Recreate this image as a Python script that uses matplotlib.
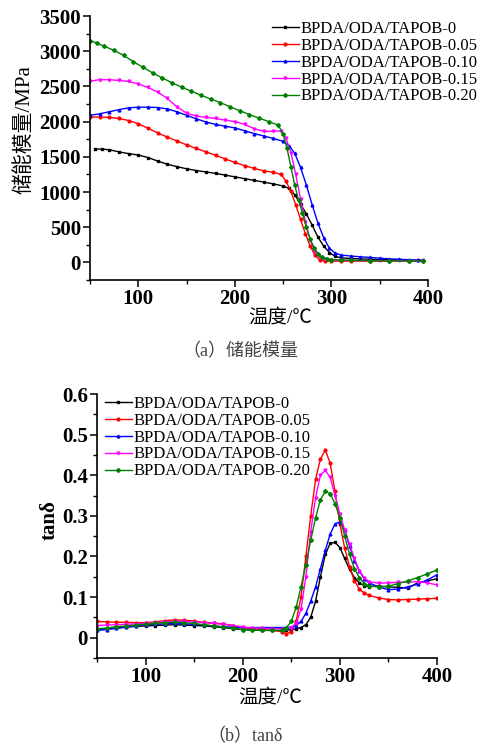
import matplotlib
matplotlib.use("Agg")
import matplotlib.pyplot as plt
from matplotlib.ticker import MultipleLocator

plt.rcParams['font.family'] = ['Liberation Serif', 'Noto Sans CJK SC', 'DejaVu Sans']

# --- data: storage modulus (MPa) ---
labels = ['BPDA/ODA/TAPOB-0', 'BPDA/ODA/TAPOB-0.05', 'BPDA/ODA/TAPOB-0.10',
          'BPDA/ODA/TAPOB-0.15', 'BPDA/ODA/TAPOB-0.20']
colors = ['black', '#ff0000', '#0000ff', '#ff00ff', '#008000']
markers = ['s', 'o', '^', 'v', 'D']

e_x0 = [55, 62, 70, 80, 90, 100, 110, 120, 130, 140, 150, 160, 170, 180, 190, 200, 210, 220, 230, 240,
        250, 256, 262, 268, 274, 280, 286, 292, 298, 304, 310, 320, 330, 340, 350, 360, 370, 380, 390, 395]
e_y0 = [1610, 1610, 1600, 1570, 1545, 1525, 1490, 1440, 1395, 1360, 1330, 1305, 1285, 1265, 1240, 1215,
        1190, 1165, 1140, 1115, 1085, 1050, 960, 830, 690, 530, 360, 230, 140, 85, 65, 55, 50, 45, 40,
        38, 35, 32, 30, 28]

e_x1 = [50, 60, 70, 80, 90, 100, 110, 120, 130, 140, 150, 160, 170, 180, 190, 200, 210, 220, 230, 240,
        248, 253, 258, 263, 268, 273, 278, 283, 288, 293, 300, 310, 320, 340, 360, 380, 395]
e_y1 = [2065, 2065, 2060, 2045, 2015, 1970, 1905, 1840, 1780, 1725, 1670, 1620, 1570, 1520, 1470, 1420,
        1375, 1335, 1300, 1280, 1250, 1150, 1010, 820, 610, 410, 230, 100, 35, 20, 18, 18, 18, 18, 18,
        18, 18]

e_x2 = [50, 60, 70, 80, 90, 100, 110, 120, 130, 140, 150, 160, 170, 180, 190, 200, 210, 220, 230, 240,
        250, 256, 262, 268, 274, 280, 286, 292, 298, 304, 310, 320, 330, 340, 350, 360, 370, 380, 390, 395]
e_y2 = [2090, 2110, 2140, 2170, 2195, 2205, 2205, 2200, 2180, 2140, 2090, 2040, 1995, 1960, 1935, 1910,
        1870, 1830, 1795, 1760, 1720, 1660, 1550, 1350, 1100, 820, 560, 350, 200, 130, 105, 90, 80, 70,
        60, 50, 45, 38, 32, 28]

e_x3 = [50, 60, 70, 80, 90, 100, 110, 120, 130, 140, 150, 160, 170, 180, 190, 200, 210, 220, 230, 240,
        248, 253, 258, 263, 268, 273, 278, 283, 288, 293, 300, 310, 320, 340, 360, 380, 395]
e_y3 = [2575, 2595, 2595, 2585, 2570, 2535, 2485, 2420, 2330, 2210, 2120, 2080, 2060, 2045, 2020, 2000,
        1960, 1900, 1860, 1865, 1865, 1760, 1560, 1250, 900, 580, 320, 150, 70, 45, 35, 30, 28, 25, 22,
        20, 20]

e_x4 = [50, 57, 65, 75, 85, 95, 105, 115, 125, 135, 145, 155, 165, 175, 185, 195, 205, 215, 225, 235,
        245, 250, 254, 258, 262, 266, 270, 274, 278, 282, 286, 290, 295, 300, 310, 320, 340, 360, 380, 395]
e_y4 = [3150, 3115, 3070, 3010, 2940, 2850, 2770, 2690, 2620, 2550, 2490, 2430, 2375, 2320, 2270, 2210,
        2155, 2100, 2050, 2000, 1950, 1820, 1620, 1360, 1100, 880, 700, 500, 330, 210, 120, 70, 50, 40,
        35, 30, 25, 22, 20, 18]

# --- data: tan delta ---
t_x = [50, 60, 70, 80, 90, 100, 110, 120, 130, 140, 150, 160, 170, 180, 190, 200, 210, 220, 230, 240,
       245, 250, 255, 260, 265, 270, 275, 280, 285, 290, 295, 300, 305, 310, 315, 320, 325, 330, 340,
       350, 360, 370, 380, 390, 400]
t_y0 = [.020, .022, .024, .026, .028, .029, .030, .031, .032, .031, .030, .029, .027, .025, .022, .020,
        .019, .018, .018, .018, .019, .020, .022, .025, .032, .050, .090, .150, .205, .232, .235, .222,
        .195, .168, .148, .135, .128, .126, .127, .125, .124, .122, .135, .140, .145]
t_y1 = [.040, .039, .038, .038, .037, .037, .039, .042, .044, .043, .041, .038, .036, .034, .030, .025,
        .022, .020, .018, .015, .010, .015, .040, .100, .200, .300, .390, .440, .462, .430, .360, .280,
        .220, .175, .140, .120, .110, .104, .098, .094, .093, .094, .095, .096, .097]
t_y2 = [.018, .020, .023, .026, .029, .031, .033, .034, .035, .034, .033, .031, .029, .027, .026, .025,
        .025, .025, .025, .025, .025, .026, .030, .040, .060, .090, .125, .170, .215, .255, .280, .285,
        .265, .225, .190, .165, .145, .135, .125, .118, .120, .125, .132, .142, .155]
t_y3 = [.030, .031, .032, .033, .034, .035, .037, .039, .040, .040, .039, .037, .035, .033, .030, .026,
        .024, .023, .022, .022, .022, .025, .035, .070, .150, .260, .345, .400, .412, .395, .350, .305,
        .265, .230, .195, .165, .148, .138, .134, .135, .136, .137, .138, .135, .130]
t_y4 = [.022, .024, .027, .029, .031, .033, .035, .037, .038, .037, .035, .032, .029, .026, .023, .020,
        .019, .018, .018, .018, .025, .040, .075, .125, .180, .240, .295, .340, .360, .355, .330, .295,
        .250, .205, .170, .148, .133, .127, .125, .127, .133, .140, .148, .157, .167]

e_series = [(e_x0, e_y0), (e_x1, e_y1), (e_x2, e_y2), (e_x3, e_y3), (e_x4, e_y4)]
t_series = [t_y0, t_y1, t_y2, t_y3, t_y4]

fig = plt.figure(figsize=(4.83, 7.49), dpi=100)
ax1 = fig.add_axes([90 / 483, 1 - 280 / 749, 338 / 483, 264 / 749])
ax2 = fig.add_axes([97 / 483, 1 - 658 / 749, 340 / 483, 264 / 749])

for (x, y), c, m, lab in zip(e_series, colors, markers, labels):
    ax1.plot(x, y, color=c, marker=m, markersize=2.0, linewidth=1.0, label=lab)
for y, c, m, lab in zip(t_series, colors, markers, labels):
    ax2.plot(t_x, y, color=c, marker=m, markersize=2.0, linewidth=1.0, label=lab)


def style(ax):
    for s in ['top', 'right']:
        ax.spines[s].set_visible(False)
    for s in ['left', 'bottom']:
        ax.spines[s].set_linewidth(1.2)
    ax.tick_params(which='major', direction='out', length=5, width=1.1, labelsize=15, pad=1.5)
    ax.tick_params(which='minor', direction='out', length=3, width=1.0)
    for t in ax.get_xticklabels() + ax.get_yticklabels():
        t.set_fontweight('bold')
    ax.xaxis.set_major_locator(MultipleLocator(100))
    ax.xaxis.set_minor_locator(MultipleLocator(50))
    ax.set_xlim(50, 400)


ax1.set_ylim(-250, 3500)
ax1.yaxis.set_major_locator(MultipleLocator(500))
ax1.yaxis.set_minor_locator(MultipleLocator(250))
style(ax1)

ax2.set_ylim(-0.05, 0.6)
ax2.yaxis.set_minor_locator(MultipleLocator(0.05))
ax2.set_yticks([0, 0.1, 0.2, 0.3, 0.4, 0.5, 0.6])
ax2.set_yticklabels(['0', '0.1', '0.2', '0.3', '0.4', '0.5', '0.6'])
style(ax2)

leg_kw = dict(frameon=False, fontsize=12, handlelength=1.6, handletextpad=0.1,
              labelspacing=0.05, borderpad=0, borderaxespad=0)
ax1.legend(loc='upper left', bbox_to_anchor=((272 - 90) / 338, (280 - 21) / 264), **leg_kw)
ax2.legend(loc='upper left', bbox_to_anchor=((105 - 97) / 340, (658 - 396) / 264), **leg_kw)

fig.text(25 / 483, 1 - 130 / 749, '储能模量/MPa', rotation=90, ha='center', va='center', fontsize=15)
fig.text(280 / 483, 1 - 317 / 749, '温度/℃', ha='center', va='center', fontsize=14)
fig.text(240 / 483, 1 - 352 / 749, '（a）储能模量', ha='center', va='center', fontsize=13,
         color='#444444')

fig.text(50 / 483, 1 - 520 / 749, 'tanδ', rotation=90, ha='center', va='center', fontsize=15,
         fontweight='bold')
fig.text(270 / 483, 1 - 697 / 749, '温度/℃', ha='center', va='center', fontsize=14)
fig.text(245 / 483, 1 - 737 / 749, '（b）tanδ', ha='center', va='center', fontsize=13,
         color='#444444')

fig.savefig('out.png', dpi=100)
